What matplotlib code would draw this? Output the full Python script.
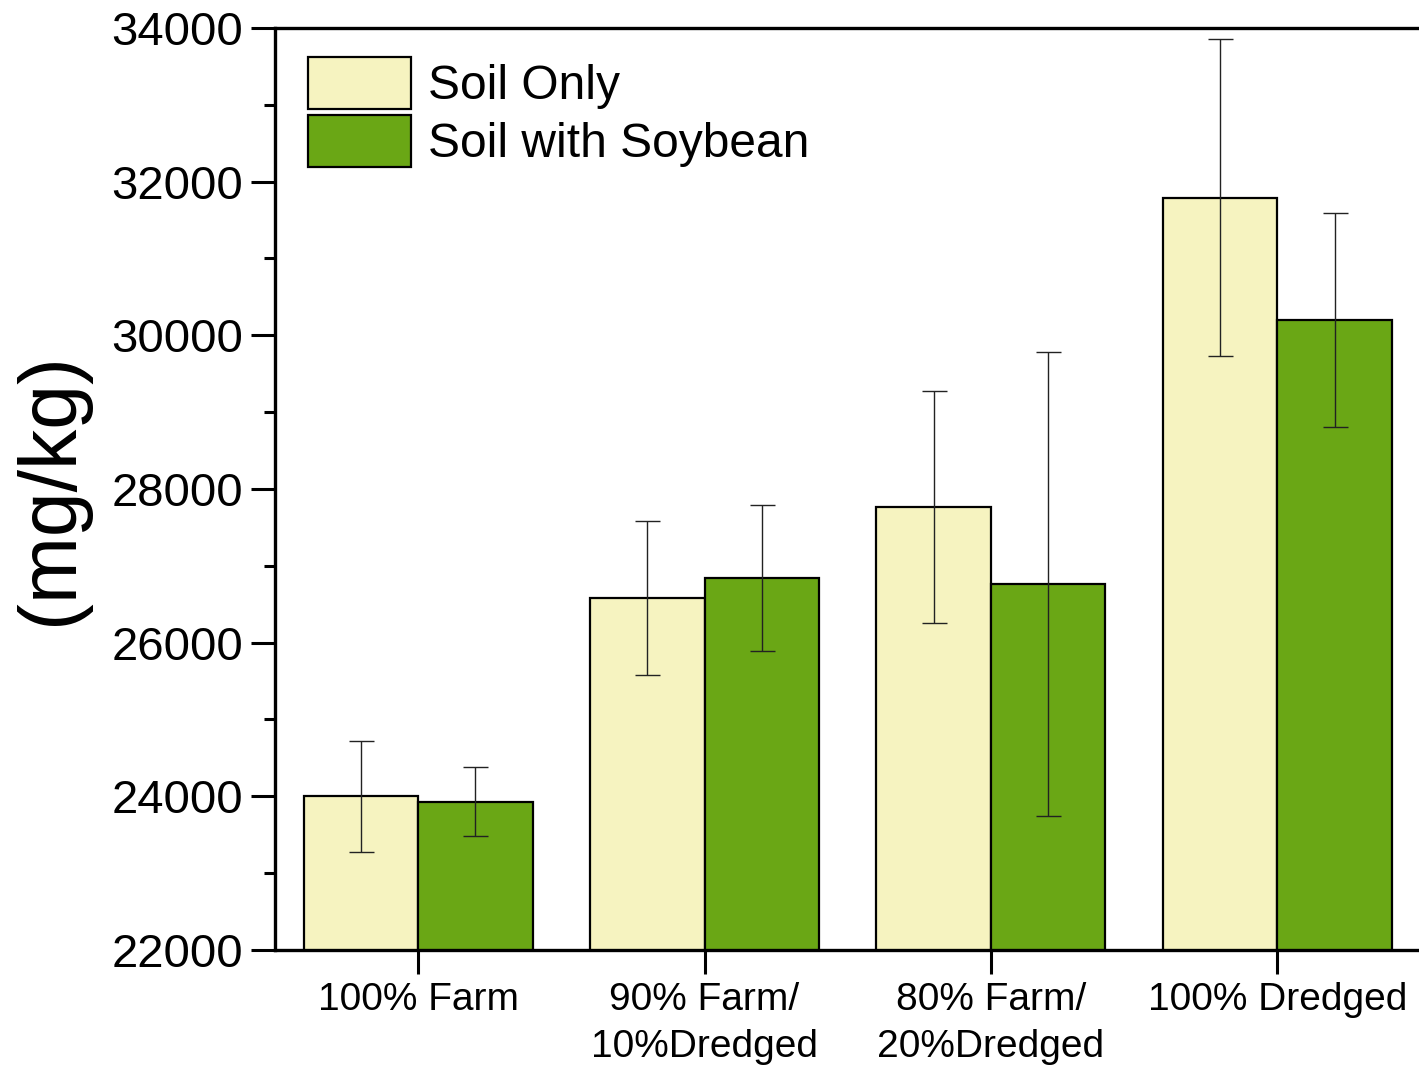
import numpy as np
import matplotlib
matplotlib.use("Agg")
import matplotlib.pyplot as plt
from matplotlib.ticker import MultipleLocator

plt.rcParams['font.family'] = ['Liberation Sans', 'DejaVu Sans']

categories = ["100% Farm", "90% Farm/\n10%Dredged", "80% Farm/\n20%Dredged", "100% Dredged"]
soil_only = [24000, 26580, 27770, 31790]
soil_only_err = [725, 1000, 1510, 2065]
soil_soybean = [23930, 26840, 26760, 30200]
soil_soybean_err = [450, 950, 3020, 1390]
series_names = ["Soil Only", "Soil with Soybean"]
colors = ["#F6F3C0", "#6AA715"]

fig = plt.figure(figsize=(14.19, 10.68), dpi=100)
ax = fig.add_axes([0.1938, 0.1105, 0.8072, 0.8633])

x = np.arange(len(categories))
w = 0.4
err_kw = dict(ecolor="#222222", elinewidth=1.0, capsize=9, capthick=1.0)
ax.bar(x - w / 2, soil_only, w, color=colors[0], edgecolor="black",
       linewidth=1.6, label=series_names[0], zorder=2)
ax.bar(x + w / 2, soil_soybean, w, color=colors[1], edgecolor="black",
       linewidth=1.6, label=series_names[1], zorder=2)
ax.errorbar(x - w / 2, soil_only, yerr=soil_only_err, fmt="none", zorder=3, **err_kw)
ax.errorbar(x + w / 2, soil_soybean, yerr=soil_soybean_err, fmt="none", zorder=3, **err_kw)

ax.set_xlim(-0.5, 3.5)
ax.set_ylim(22000, 34000)
ax.yaxis.set_major_locator(MultipleLocator(2000))
ax.yaxis.set_minor_locator(MultipleLocator(1000))
ax.set_xticks(x)
ax.set_xticklabels(categories, fontsize=28, linespacing=1.4)
ax.tick_params(axis="y", which="major", labelsize=34, length=17, width=2.2, pad=6)
ax.tick_params(axis="y", which="minor", length=8, width=2.2)
ax.tick_params(axis="x", which="major", length=17, width=2.2, pad=6)

for side in ["left", "bottom", "top"]:
    ax.spines[side].set_linewidth(2.4)
ax.spines["right"].set_visible(False)

ax.set_ylabel("(mg/kg)", fontsize=58, labelpad=16)

leg = ax.legend(loc="upper left", bbox_to_anchor=(0.004, 1.0), frameon=False,
                fontsize=34.5, handlelength=2.15, handleheight=1.3,
                labelspacing=0.12, handletextpad=0.35, borderaxespad=0.2)
for p in leg.get_patches():
    p.set_linewidth(1.6)

fig.savefig("out.png", dpi=100)
